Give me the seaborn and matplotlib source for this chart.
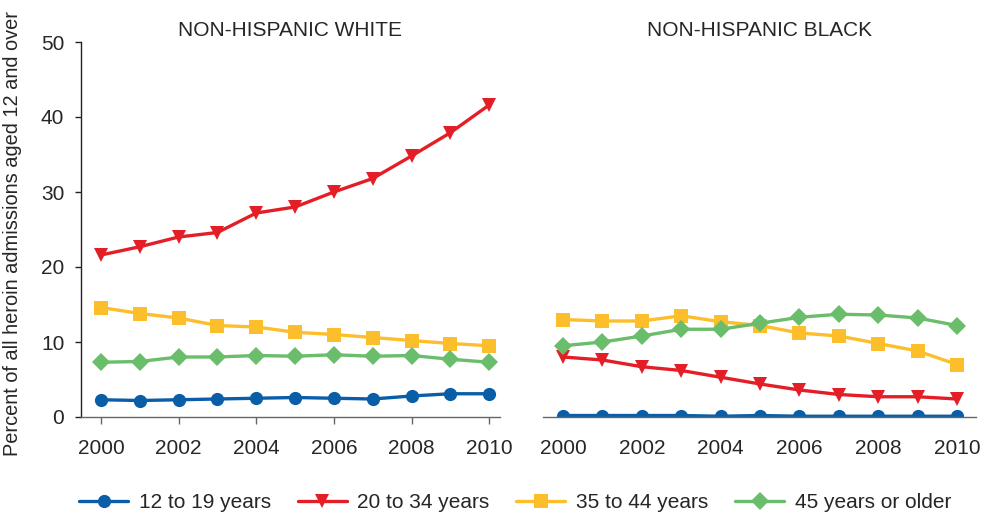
import matplotlib
matplotlib.use("Agg")
import matplotlib.pyplot as plt
import seaborn as sns
import pandas as pd

years = list(range(2000, 2011))
age_groups = ["12 to 19 years", "20 to 34 years", "35 to 44 years", "45 years or older"]
panel_titles = ["NON-HISPANIC WHITE", "NON-HISPANIC BLACK"]

white_12_19 = [2.3, 2.2, 2.3, 2.4, 2.5, 2.6, 2.5, 2.4, 2.8, 3.1, 3.1]
white_20_34 = [21.6, 22.7, 24.0, 24.6, 27.2, 28.0, 30.0, 31.8, 34.8, 37.9, 41.6]
white_35_44 = [14.6, 13.8, 13.2, 12.2, 12.0, 11.3, 11.0, 10.6, 10.2, 9.8, 9.5]
white_45_up = [7.3, 7.4, 8.0, 8.0, 8.2, 8.1, 8.3, 8.1, 8.2, 7.7, 7.3]

black_12_19 = [0.2, 0.2, 0.2, 0.2, 0.1, 0.2, 0.1, 0.1, 0.1, 0.1, 0.1]
black_20_34 = [8.0, 7.6, 6.7, 6.2, 5.3, 4.4, 3.6, 3.0, 2.7, 2.7, 2.4]
black_35_44 = [13.0, 12.8, 12.8, 13.5, 12.7, 12.2, 11.2, 10.8, 9.8, 8.8, 7.0]
black_45_up = [9.5, 10.0, 10.8, 11.7, 11.7, 12.5, 13.3, 13.7, 13.6, 13.2, 12.2]

y_label = "Percent of all heroin admissions aged 12 and over"
y_ticks = [0, 10, 20, 30, 40, 50]
x_ticks = [2000, 2002, 2004, 2006, 2008, 2010]

palette = {
    "12 to 19 years": "#0A5EA8",
    "20 to 34 years": "#E41E26",
    "35 to 44 years": "#FDBE2C",
    "45 years or older": "#6ABD6A",
}
markers = {
    "12 to 19 years": "o",
    "20 to 34 years": "v",
    "35 to 44 years": "s",
    "45 years or older": "D",
}


def long_frame(series_list):
    rows = []
    for grp, vals in zip(age_groups, series_list):
        for yr, v in zip(years, vals):
            rows.append({"Year": yr, "Percent": v, "Age": grp})
    return pd.DataFrame(rows)


df_white = long_frame([white_12_19, white_20_34, white_35_44, white_45_up])
df_black = long_frame([black_12_19, black_20_34, black_35_44, black_45_up])

sns.set_style("white")
plt.rcParams["font.family"] = ["Liberation Sans", "DejaVu Sans"]

fig = plt.figure(figsize=(9.81, 5.17), dpi=100)
ax1 = fig.add_axes([81 / 981, 1 - 417 / 517, 419 / 981, 375 / 517])
ax2 = fig.add_axes([543 / 981, 1 - 417 / 517, 433 / 981, 375 / 517])

for ax, df, title in [(ax1, df_white, panel_titles[0]), (ax2, df_black, panel_titles[1])]:
    sns.lineplot(
        data=df, x="Year", y="Percent", hue="Age", style="Age",
        hue_order=age_groups, style_order=age_groups,
        palette=palette, markers=markers, dashes=False,
        linewidth=2.4, markersize=9.5, markeredgewidth=0,
        ax=ax, legend=(ax is ax1),
    )
    ax.set_ylim(0, 50)
    ax.set_title(title, fontsize=15, pad=4)
    ax.set_xlabel("")
    ax.set_xticks(x_ticks)
    ax.set_xticklabels([str(t) for t in x_ticks], fontsize=15)
    for s in ["top", "right"]:
        ax.spines[s].set_visible(False)
    ax.spines["bottom"].set_color("#666666")
    ax.spines["bottom"].set_linewidth(1.0)

ax1.set_xlim(1999.485, 2010.28)
ax2.set_xlim(1999.49, 2010.48)

ax1.set_yticks(y_ticks)
ax1.set_yticklabels([str(t) for t in y_ticks], fontsize=15)
ax1.spines["left"].set_color("#222222")
ax1.spines["left"].set_linewidth(1.0)
ax1.tick_params(axis="y", which="both", left=True, length=4, width=1, color="#222222", pad=8)
ax1.tick_params(axis="x", which="both", bottom=True, length=5, width=1, color="#666666", pad=11)
ax1.set_ylabel(y_label, fontsize=14.4)
ax1.yaxis.set_label_coords(-0.14, 0.49)

ax2.spines["left"].set_visible(False)
ax2.set_ylabel("")
ax2.set_yticks([])
ax2.tick_params(axis="x", which="both", bottom=False, length=0, pad=16)

handles, labels = ax1.get_legend_handles_labels()
ax1.get_legend().remove()
fig.legend(
    handles, labels, loc="center", bbox_to_anchor=(0.525, 1 - 503 / 517),
    ncol=4, frameon=False, fontsize=15, handlelength=2.35,
    handletextpad=0.5, columnspacing=1.3, borderaxespad=0,
)

fig.savefig("out.png", dpi=100)
